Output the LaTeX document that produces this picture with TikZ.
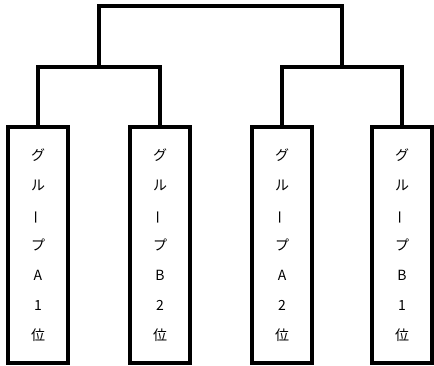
\documentclass[tikz,border=0pt]{standalone}
\usepackage{fontspec}
\newfontfamily\jp{Noto Sans CJK JP}
\begin{document}
\begin{tikzpicture}[x=0.75pt,y=-0.75pt,
  line width=3pt,
  team/.style={draw, rectangle, minimum width=45pt, minimum height=177pt,
    inner sep=0pt, align=center, font=\jp\fontsize{10.5}{22.5}\selectfont},
  bracket/.style={draw, line width=3pt, line join=miter}]
\useasboundingbox (0,0) rectangle (434,366);
\newcommand{\vbar}{\rotatebox[origin=c]{90}{ー}}
\node[team] (b1) at (38,245) {グ\\ル\\\vbar\\プ\\A\\1\\位};
\node[team] (b2) at (160,245) {グ\\ル\\\vbar\\プ\\B\\2\\位};
\node[team] (b3) at (282,245) {グ\\ル\\\vbar\\プ\\A\\2\\位};
\node[team] (b4) at (402,245) {グ\\ル\\\vbar\\プ\\B\\1\\位};
\coordinate (s1) at (99,67);
\coordinate (s2) at (342,67);
\coordinate (top) at (220.5,6);
\draw[bracket] (b1.north) |- (s1) -| (b2.north);
\draw[bracket] (b3.north) |- (s2) -| (b4.north);
\draw[bracket] (s1) |- (top) -| (s2);
\end{tikzpicture}
\end{document}
